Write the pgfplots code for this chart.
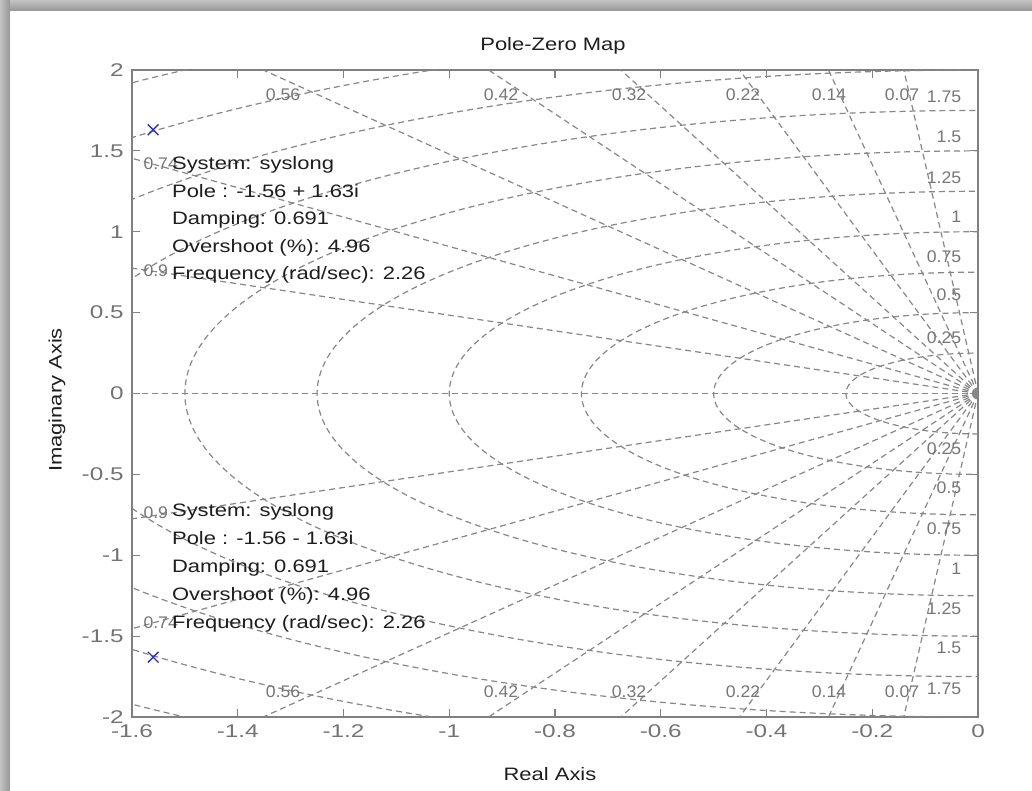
\documentclass[border=0pt]{standalone}
\usepackage{fontspec}
\setmainfont{Liberation Sans}[FakeStretch=1.22]
\newfontfamily\gridfont{Liberation Sans}[FakeStretch=1.05]
\newfontfamily\tickfont{Liberation Sans}[FakeStretch=1.32]
\usepackage{pgfplots}
\pgfplotsset{compat=1.18}

\definecolor{axisgray}{RGB}{128,128,128}
\definecolor{ticktext}{RGB}{115,115,115}
\definecolor{gridgray}{RGB}{135,135,135}
\definecolor{gridtext}{RGB}{118,118,118}
\definecolor{tiptext}{RGB}{30,30,30}
\definecolor{labeltext}{RGB}{30,30,30}
\definecolor{poleblue}{RGB}{45,45,225}
\definecolor{shadowlight}{RGB}{195,195,195}
\definecolor{shadowdark}{RGB}{150,150,150}

\begin{document}
\begin{tikzpicture}[font=\fontsize{9}{11}\selectfont]
\path[use as bounding box] (-66pt,-37pt) rectangle (450pt,358.5pt);
% window shadow and white panel
\shade[top color=shadowlight, bottom color=shadowdark] (-66pt,353pt) rectangle (450pt,358.5pt);
\shade[left color=shadowlight, right color=shadowdark] (-66pt,-37pt) rectangle (-61pt,358.5pt);
\fill[white] (-61pt,-37pt) rectangle (450pt,353pt);

\begin{axis}[
  at={(0pt,0pt)}, anchor=south west,
  scale only axis, width=423pt, height=323.5pt,
  xmin=-1.6, xmax=0, ymin=-2, ymax=2,
  xtick={-1.6,-1.4,-1.2,-1,-0.8,-0.6,-0.4,-0.2,0},
  xticklabels={-1.6,-1.4,-1.2,-1,-0.8,-0.6,-0.4,-0.2,0},
  ytick={-2,-1.5,-1,-0.5,0,0.5,1,1.5,2},
  yticklabels={-2,-1.5,-1,-0.5,0,0.5,1,1.5,2},
  tick align=inside, major tick length=4pt,
  axis line style={axisgray, line width=0.6pt},
  every tick/.style={axisgray, line width=0.6pt},
  xticklabel style={ticktext, font=\tickfont\fontsize{9.2}{11}\selectfont, anchor=north, inner sep=0pt, yshift=-3.6pt},
  yticklabel style={ticktext, font=\tickfont\fontsize{9.2}{11}\selectfont, anchor=east, inner sep=0pt, xshift=-4pt},
  clip=false,
]

% s-plane grid: natural frequency circles and damping rays
\begin{scope}
\clip (rel axis cs:0,0) rectangle (rel axis cs:1,1);
\begin{scope}[gridgray, line width=0.6pt, dash pattern=on 3pt off 2pt]
\draw (axis cs:0,0) ellipse [x radius=0.25, y radius=0.25];
\draw (axis cs:0,0) ellipse [x radius=0.5, y radius=0.5];
\draw (axis cs:0,0) ellipse [x radius=0.75, y radius=0.75];
\draw (axis cs:0,0) ellipse [x radius=1, y radius=1];
\draw (axis cs:0,0) ellipse [x radius=1.25, y radius=1.25];
\draw (axis cs:0,0) ellipse [x radius=1.5, y radius=1.5];
\draw (axis cs:0,0) ellipse [x radius=1.75, y radius=1.75];
\draw (axis cs:0,0) ellipse [x radius=2, y radius=2];
\draw (axis cs:0,0) ellipse [x radius=2.25, y radius=2.25];
\draw (axis cs:0,0) ellipse [x radius=2.5, y radius=2.5];
% damping 0.07 0.14 0.22 0.32 0.42 0.56 0.74 0.9 1
\draw (axis cs:0,0) -- (axis cs:-0.28,3.9902);
\draw (axis cs:0,0) -- (axis cs:-0.56,3.9606);
\draw (axis cs:0,0) -- (axis cs:-0.88,3.9020);
\draw (axis cs:0,0) -- (axis cs:-1.28,3.7897);
\draw (axis cs:0,0) -- (axis cs:-1.68,3.6301);
\draw (axis cs:0,0) -- (axis cs:-2.24,3.3140);
\draw (axis cs:0,0) -- (axis cs:-2.96,2.6904);
\draw (axis cs:0,0) -- (axis cs:-3.6,1.7436);
\draw (axis cs:0,0) -- (axis cs:-0.28,-3.9902);
\draw (axis cs:0,0) -- (axis cs:-0.56,-3.9606);
\draw (axis cs:0,0) -- (axis cs:-0.88,-3.9020);
\draw (axis cs:0,0) -- (axis cs:-1.28,-3.7897);
\draw (axis cs:0,0) -- (axis cs:-1.68,-3.6301);
\draw (axis cs:0,0) -- (axis cs:-2.24,-3.3140);
\draw (axis cs:0,0) -- (axis cs:-2.96,-2.6904);
\draw (axis cs:0,0) -- (axis cs:-3.6,-1.7436);
\draw (axis cs:0,0) -- (axis cs:-4,0);
\end{scope}
\end{scope}

% damping labels
\begin{scope}[every node/.style={gridtext, font=\gridfont\fontsize{8.4}{10}\selectfont, inner sep=0pt}]
\node at (axis cs:-1.3144,1.85) {0.56};
\node at (axis cs:-0.9021,1.85) {0.42};
\node at (axis cs:-0.660,1.85) {0.32};
\node at (axis cs:-0.4445,1.85) {0.22};
\node at (axis cs:-0.2818,1.85) {0.14};
\node at (axis cs:-0.1437,1.85) {0.07};
\node at (axis cs:-1.3144,-1.845) {0.56};
\node at (axis cs:-0.9021,-1.845) {0.42};
\node at (axis cs:-0.660,-1.845) {0.32};
\node at (axis cs:-0.4445,-1.845) {0.22};
\node at (axis cs:-0.2818,-1.845) {0.14};
\node at (axis cs:-0.1437,-1.845) {0.07};
\node[anchor=west] at (axis cs:-1.579,1.423) {0.74};
\node[anchor=west] at (axis cs:-1.579,0.757) {0.9};
\node[anchor=west] at (axis cs:-1.579,-0.739) {0.9};
\node[anchor=west] at (axis cs:-1.579,-1.419) {0.74};
% natural frequency labels
\node[anchor=east] at (axis cs:-0.031,1.835) {1.75};
\node[anchor=east] at (axis cs:-0.031,1.588) {1.5};
\node[anchor=east] at (axis cs:-0.031,1.334) {1.25};
\node[anchor=east] at (axis cs:-0.031,1.093) {1};
\node[anchor=east] at (axis cs:-0.031,0.846) {0.75};
\node[anchor=east] at (axis cs:-0.031,0.609) {0.5};
\node[anchor=east] at (axis cs:-0.031,0.347) {0.25};
\node[anchor=east] at (axis cs:-0.031,-0.339) {0.25};
\node[anchor=east] at (axis cs:-0.031,-0.580) {0.5};
\node[anchor=east] at (axis cs:-0.031,-0.833) {0.75};
\node[anchor=east] at (axis cs:-0.031,-1.081) {1};
\node[anchor=east] at (axis cs:-0.031,-1.328) {1.25};
\node[anchor=east] at (axis cs:-0.031,-1.575) {1.5};
\node[anchor=east] at (axis cs:-0.031,-1.823) {1.75};
\end{scope}

% poles of syslong
\addplot[only marks, mark=x, mark size=3.8pt, poleblue, mark options={line width=0.7pt}]
  coordinates {(-1.56,1.63) (-1.56,-1.63)};

% data tips
\begin{scope}[every node/.style={tiptext, anchor=base west, inner sep=0pt}]
\node at (axis cs:-1.5249,1.3818) {System: syslong};
\node at (axis cs:-1.5249,1.2117) {Pole : -1.56 + 1.63i};
\node at (axis cs:-1.5249,1.0417) {Damping: 0.691};
\node at (axis cs:-1.5249,0.8717) {Overshoot (\%): 4.96};
\node at (axis cs:-1.5249,0.7017) {Frequency (rad/sec): 2.26};
\node at (axis cs:-1.5249,-0.7617) {System: syslong};
\node at (axis cs:-1.5249,-0.9342) {Pole : -1.56 - 1.63i};
\node at (axis cs:-1.5249,-1.1066) {Damping: 0.691};
\node at (axis cs:-1.5249,-1.2791) {Overshoot (\%): 4.96};
\node at (axis cs:-1.5249,-1.4516) {Frequency (rad/sec): 2.26};
\end{scope}
\end{axis}

\node[labeltext] at (210.5pt,335.5pt) {Pole-Zero Map};
\node[labeltext] at (209pt,-28.5pt) {Real Axis};
\node[labeltext, rotate=90] at (-37.5pt,158.5pt) {Imaginary Axis};
\end{tikzpicture}
\end{document}
